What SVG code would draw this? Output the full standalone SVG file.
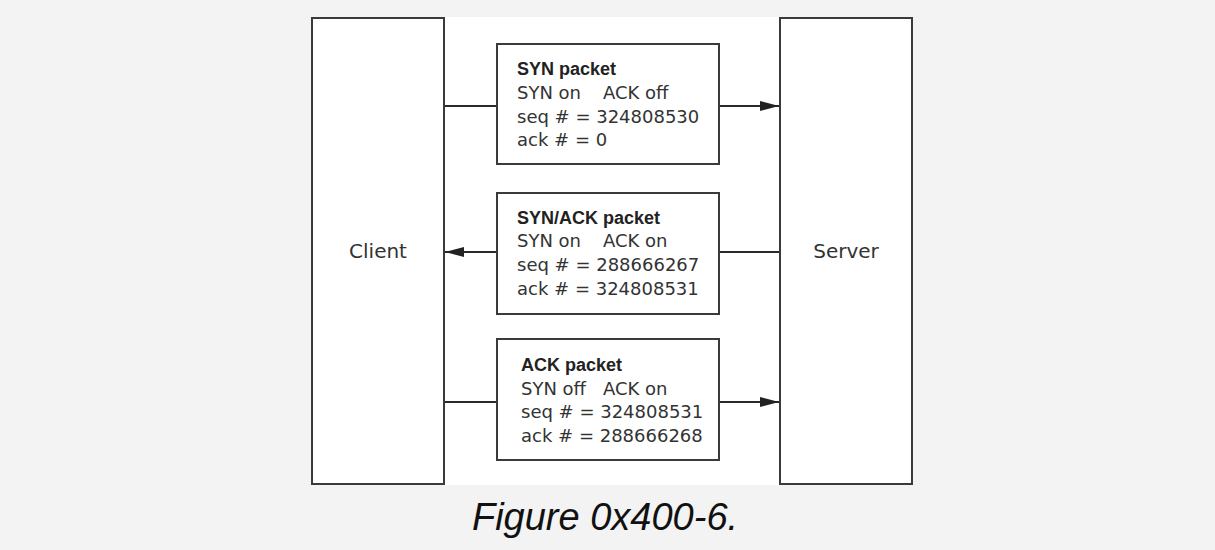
<svg xmlns="http://www.w3.org/2000/svg" width="1215" height="550" viewBox="0 0 1215 550">
<defs>
<style>
.box{fill:#fff;stroke:#3a3a3a;stroke-width:2}
.ln{stroke:#2a2a2a;stroke-width:2;fill:none}
.hd{font-family:"Liberation Sans",Arial,sans-serif;font-weight:bold;font-size:18px;fill:#222}
.tx{font-family:"DejaVu Sans","Liberation Sans",sans-serif;font-size:18px;fill:#333}
.big{font-family:"DejaVu Sans","Liberation Sans",sans-serif;font-size:20px;fill:#333;text-anchor:middle}
.cap{font-family:"Liberation Sans",Arial,sans-serif;font-style:italic;font-size:38px;fill:#111;text-anchor:middle}
</style>
<marker id="ah" viewBox="0 0 19 10" refX="19" refY="5" markerWidth="19" markerHeight="10" markerUnits="userSpaceOnUse" orient="auto">
<path d="M0,0 L19,5 L0,10 Z" fill="#222"/>
</marker>
</defs>
<rect x="0" y="0" width="1215" height="550" fill="#f3f3f3"/>
<rect x="312" y="17" width="600" height="468" fill="#fff"/>

<g id="connectors">
<line class="ln" x1="444" y1="106" x2="497" y2="106"/>
<line class="ln" x1="719" y1="106" x2="779" y2="106" marker-end="url(#ah)"/>
<line class="ln" x1="497" y1="252" x2="445" y2="252" marker-end="url(#ah)"/>
<line class="ln" x1="719" y1="252" x2="780" y2="252"/>
<line class="ln" x1="444" y1="402" x2="497" y2="402"/>
<line class="ln" x1="719" y1="402" x2="779" y2="402" marker-end="url(#ah)"/>
</g>

<g id="client">
<rect class="box" x="312" y="18" width="132" height="466"/>
<text class="big" x="378" y="258">Client</text>
</g>

<g id="server">
<rect class="box" x="780" y="18" width="132" height="466"/>
<text class="big" x="846" y="258">Server</text>
</g>

<g id="syn">
<rect class="box" x="497" y="44" width="222" height="120"/>
<text class="hd" x="517" y="75">SYN packet</text>
<text class="tx" x="517" y="99">SYN on<tspan x="603">ACK off</tspan></text>
<text class="tx" x="517" y="123">seq # = 324808530</text>
<text class="tx" x="517" y="146">ack # = 0</text>
</g>

<g id="synack">
<rect class="box" x="497" y="193" width="222" height="121"/>
<text class="hd" x="517" y="224">SYN/ACK packet</text>
<text class="tx" x="517" y="247">SYN on<tspan x="603">ACK on</tspan></text>
<text class="tx" x="517" y="271">seq # = 288666267</text>
<text class="tx" x="517" y="295">ack # = 324808531</text>
</g>

<g id="ack">
<rect class="box" x="497" y="339" width="222" height="121"/>
<text class="hd" x="521" y="371">ACK packet</text>
<text class="tx" x="521" y="395">SYN off<tspan x="603">ACK on</tspan></text>
<text class="tx" x="521" y="418">seq # = 324808531</text>
<text class="tx" x="521" y="442">ack # = 288666268</text>
</g>

<text class="cap" x="605" y="530">Figure 0x400-6.</text>
</svg>
